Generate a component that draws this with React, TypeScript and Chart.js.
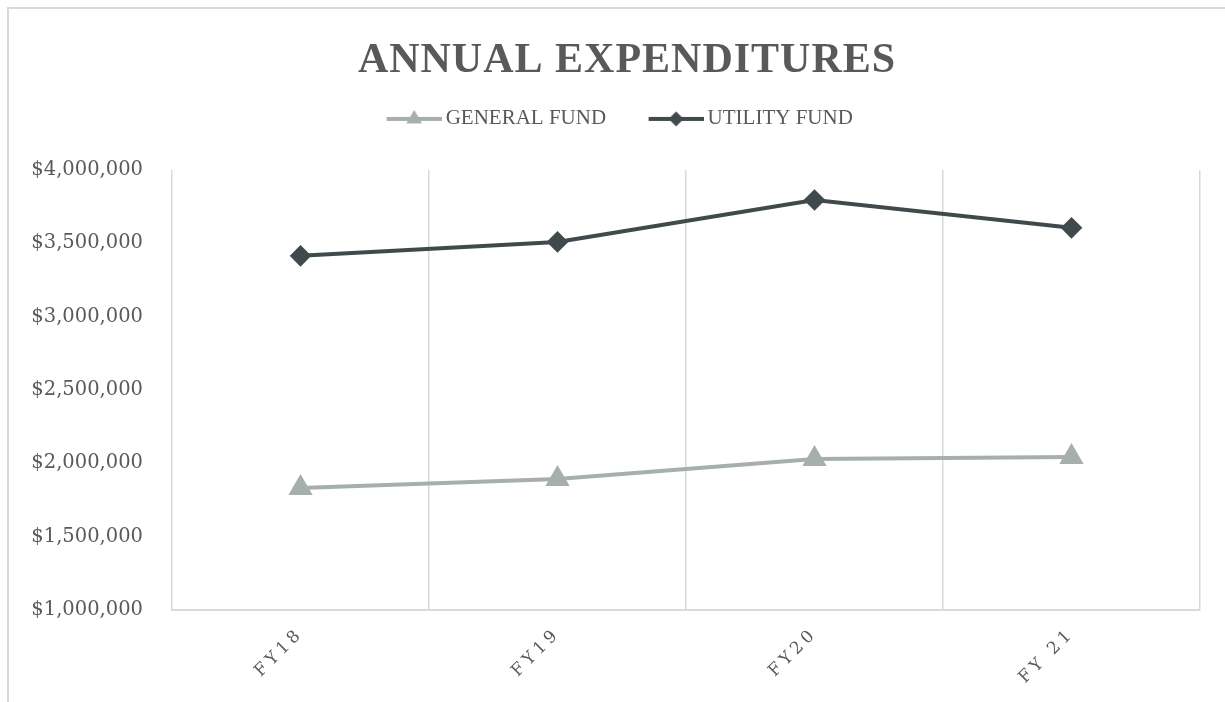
import { useEffect, useRef } from "react";
import { Chart, registerables } from "chart.js";

Chart.register(...registerables);

const titleText = "ANNUAL EXPENDITURES";
const categories = ["FY18", "FY19", "FY20", "FY 21"];
const seriesNames = ["GENERAL FUND", "UTILITY FUND"];
const generalFund = [1832000, 1893000, 2030000, 2043000];
const utilityFund = [3414000, 3509000, 3795000, 3605000];
const yMin = 1000000;
const yMax = 4000000;
const yStep = 500000;

const GENERAL_COLOR = "#A6AEAE";
const UTILITY_COLOR = "#404A4C";
const TEXT_COLOR = "#595959";
const GRID_COLOR = "#D9D9D9";

function legendMarker(color: string, shape: "triangle" | "diamond") {
  const c = document.createElement("canvas");
  c.width = 94;
  c.height = 24;
  const ctx = c.getContext("2d")!;
  ctx.strokeStyle = color;
  ctx.lineWidth = 4;
  ctx.beginPath();
  ctx.moveTo(39, 12);
  ctx.lineTo(94, 12);
  ctx.stroke();
  ctx.fillStyle = color;
  const cx = 66.5;
  const cy = 12;
  ctx.beginPath();
  if (shape === "triangle") {
    const r = 9;
    ctx.moveTo(cx, cy - r);
    ctx.lineTo(cx + r * 0.866, cy + r / 2);
    ctx.lineTo(cx - r * 0.866, cy + r / 2);
  } else {
    const r = 7.5;
    ctx.moveTo(cx, cy - r);
    ctx.lineTo(cx + r, cy);
    ctx.lineTo(cx, cy + r);
    ctx.lineTo(cx - r, cy);
  }
  ctx.closePath();
  ctx.fill();
  return c;
}

function wrapDraw(obj: any, spacing: string, dx: number) {
  if (!obj || obj.__wrapped) return;
  const orig = obj.draw;
  obj.draw = function (...args: any[]) {
    const ctx = this.ctx;
    ctx.save();
    ctx.letterSpacing = spacing;
    ctx.translate(dx, 0);
    orig.apply(this, args);
    ctx.restore();
  };
  obj.__wrapped = true;
}

const spacingPlugin = {
  id: "letterSpacing",
  afterLayout(chart: any) {
    const xs = chart.scales.x;
    if (xs && !xs.__spaced) {
      const orig = xs.drawLabels;
      xs.drawLabels = function (area: any) {
        const ctx = this.ctx;
        ctx.save();
        ctx.letterSpacing = "4px";
        orig.call(this, area);
        ctx.restore();
      };
      xs.__spaced = true;
    }
    wrapDraw(chart.titleBlock, "1px", 22.5);
    wrapDraw(chart.legend, "0px", -1);
  },
};

export default function App() {
  const ref = useRef<HTMLCanvasElement | null>(null);

  useEffect(() => {
    if (!ref.current) return;
    const markers = [
      legendMarker(GENERAL_COLOR, "triangle"),
      legendMarker(UTILITY_COLOR, "diamond"),
    ];
    const chart = new Chart(ref.current, {
      type: "line",
      data: {
        labels: categories,
        datasets: [
          {
            label: seriesNames[0],
            data: generalFund,
            borderColor: GENERAL_COLOR,
            backgroundColor: GENERAL_COLOR,
            borderWidth: 4,
            pointStyle: "triangle",
            pointRadius: 10,
            pointBackgroundColor: GENERAL_COLOR,
            pointBorderColor: GENERAL_COLOR,
            tension: 0,
          },
          {
            label: seriesNames[1],
            data: utilityFund,
            borderColor: UTILITY_COLOR,
            backgroundColor: UTILITY_COLOR,
            borderWidth: 4,
            pointStyle: "rectRot",
            pointRadius: 8,
            pointBackgroundColor: UTILITY_COLOR,
            pointBorderColor: UTILITY_COLOR,
            tension: 0,
          },
        ],
      },
      options: {
        animation: false,
        responsive: false,
        layout: { padding: { left: 0, right: 25, top: 0, bottom: 0 } },
        plugins: {
          title: {
            display: true,
            text: titleText,
            color: TEXT_COLOR,
            font: { family: "'Liberation Serif'", size: 42, weight: "bold", lineHeight: 1.2 },
            padding: { top: 27, bottom: 12 },
          },
          subtitle: {
            display: true,
            text: "",
            weight: 500,
            font: { size: 10, lineHeight: 1 },
            padding: { top: 20.5, bottom: 0 },
          } as any,
          legend: {
            display: true,
            position: "top",
            labels: {
              usePointStyle: true,
              pointStyleWidth: 81,
              color: TEXT_COLOR,
              padding: 10,
              font: { family: "'Liberation Serif'", size: 21 },
              generateLabels: (ch: any) =>
                ch.data.datasets.map((ds: any, i: number) => ({
                  text: ds.label,
                  fillStyle: ds.borderColor,
                  strokeStyle: ds.borderColor,
                  lineWidth: 0,
                  pointStyle: markers[i],
                  hidden: false,
                  datasetIndex: i,
                  fontColor: TEXT_COLOR,
                })),
            },
          },
          tooltip: { enabled: false },
        },
        scales: {
          x: {
            type: "category",
            offset: true,
            grid: {
              display: true,
              offset: true,
              color: GRID_COLOR,
              lineWidth: 1.5,
              drawTicks: false,
            },
            border: { display: true, color: GRID_COLOR, width: 2 },
            ticks: {
              color: TEXT_COLOR,
              font: { family: "'DejaVu Serif'", size: 17 },
              minRotation: 45,
              maxRotation: 45,
              padding: 14,
              autoSkip: false,
            },
            afterFit: (s: any) => {
              s.height = 92;
            },
          },
          y: {
            min: yMin,
            max: yMax,
            grid: { display: false, drawTicks: false },
            border: { display: false },
            ticks: {
              stepSize: yStep,
              color: TEXT_COLOR,
              padding: 29,
              font: { family: "'DejaVu Serif'", size: 19.5 },
              callback: (v: any) => "$" + Number(v).toLocaleString("en-US"),
            },
            afterFit: (s: any) => {
              s.width = 163;
            },
          },
        },
      },
      plugins: [spacingPlugin],
    } as any);
    return () => chart.destroy();
  }, []);

  return (
    <div
      style={{
        position: "absolute",
        left: 7,
        top: 7,
        width: 1218,
        height: 695,
        borderTop: "2px solid #D9D9D9",
        borderLeft: "2px solid #D9D9D9",
        boxSizing: "border-box",
        overflow: "hidden",
        background: "#fff",
      }}
    >
      <canvas ref={ref} width={1216} height={693} style={{ display: "block" }} />
    </div>
  );
}
